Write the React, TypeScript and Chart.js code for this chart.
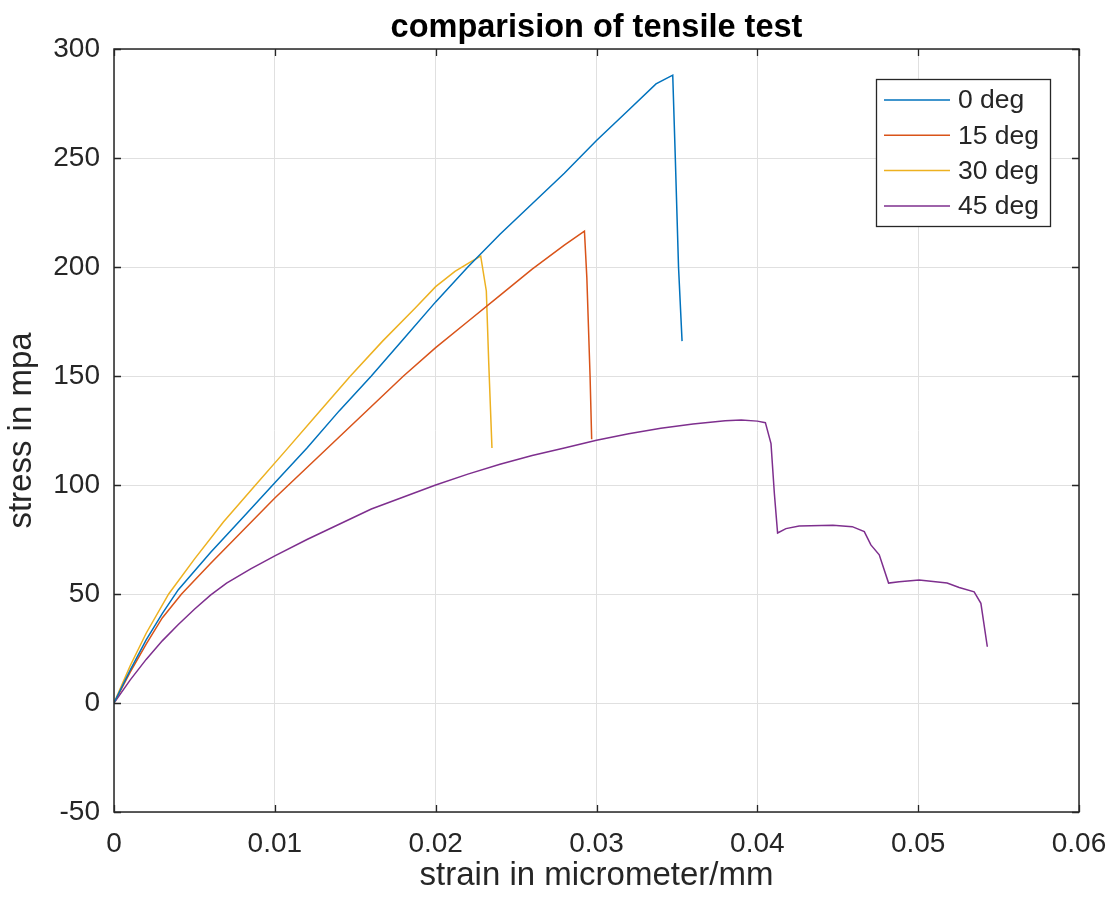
import { useEffect, useRef } from "react";
import { Chart, registerables } from "chart.js";

Chart.register(...registerables);

// ---- data ----
const seriesLabels = ["0 deg", "15 deg", "30 deg", "45 deg"];
const seriesColors = ["#0072BD", "#D95319", "#EDB120", "#7E2F8E"];

const strain0 = [0, 0.001, 0.002, 0.003, 0.004, 0.006, 0.008, 0.01, 0.012, 0.014, 0.016, 0.018, 0.02, 0.022, 0.024, 0.026, 0.028, 0.03, 0.032, 0.0337, 0.03474, 0.0349, 0.0351, 0.03532];
const stress0 = [0, 15, 29, 41, 52, 69, 85, 101, 117, 134, 150, 167, 184, 200, 215, 229, 243, 258, 272, 284, 288, 250, 200, 166];

const strain15 = [0, 0.001, 0.002, 0.003, 0.0042, 0.006, 0.008, 0.01, 0.012, 0.014, 0.016, 0.018, 0.02, 0.022, 0.024, 0.026, 0.028, 0.02925, 0.0294, 0.0296, 0.0297];
const stress15 = [0, 14, 27, 39, 50, 64, 79, 94, 108, 122, 136, 150, 163, 175, 187, 199, 210, 216.5, 195, 150, 121];

const strain30 = [0, 0.001, 0.002, 0.0034, 0.005, 0.0068, 0.0088, 0.0107, 0.0127, 0.0147, 0.0167, 0.0187, 0.02, 0.0212, 0.0222, 0.0228, 0.02315, 0.0233, 0.0235];
const stress30 = [0, 17, 32, 50, 66, 83, 100, 116, 133, 150, 166, 181, 191, 198, 202.5, 205, 189, 156, 117];

const strain45 = [0, 0.001, 0.002, 0.003, 0.004, 0.005, 0.006, 0.007, 0.0085, 0.01, 0.012, 0.014, 0.016, 0.018, 0.02, 0.022, 0.024, 0.026, 0.028, 0.03, 0.032, 0.034, 0.036, 0.038, 0.039, 0.04, 0.0405, 0.04085, 0.04106, 0.04126, 0.04178, 0.0426, 0.0447, 0.0459, 0.04665, 0.04706, 0.04758, 0.04816, 0.04882, 0.05006, 0.0518, 0.05255, 0.05348, 0.0539, 0.0543];
const stress45 = [0, 10.5, 20, 28.5, 36, 43, 49.5, 55, 61.5, 67.5, 75, 82, 89, 94.5, 100, 105, 109.5, 113.5, 117, 120.5, 123.5, 126, 128, 129.5, 129.8, 129.3, 128.6, 119, 96, 78, 80, 81.2, 81.5, 80.9, 78.6, 72.5, 68, 55, 55.6, 56.4, 55, 53, 51, 45.7, 25.8];

const xTickMin = 0;
const xTickMax = 0.06;
const xTickStep = 0.01;
const yTickMin = -50;
const yTickMax = 300;
const yTickStep = 50;

const titleText = "comparision of tensile test";
const xTitle = "strain in micrometer/mm";
const yTitle = "stress in mpa";

const FONT = '"Liberation Sans", Arial, Helvetica, sans-serif';
const AXIS_COLOR = "#262626";
const GRID_COLOR = "#e0e0e0";

const seriesX = [strain0, strain15, strain30, strain45];
const seriesY = [stress0, stress15, stress30, stress45];

const boxPlugin = {
  id: "matlabBox",
  afterDraw(chart: any) {
    const { ctx, chartArea, scales } = chart;
    const { left, top, right, bottom } = chartArea;
    ctx.save();
    ctx.strokeStyle = AXIS_COLOR;
    ctx.lineWidth = 1.5;
    ctx.strokeRect(left, top, right - left, bottom - top);
    ctx.lineWidth = 1.3;
    const tl = 7;
    ctx.beginPath();
    scales.x.ticks.forEach((t: any) => {
      const px = Math.round(scales.x.getPixelForValue(t.value)) + 0.5;
      ctx.moveTo(px, bottom);
      ctx.lineTo(px, bottom - tl);
      ctx.moveTo(px, top);
      ctx.lineTo(px, top + tl);
    });
    scales.y.ticks.forEach((t: any) => {
      const py = Math.round(scales.y.getPixelForValue(t.value)) + 0.5;
      ctx.moveTo(left, py);
      ctx.lineTo(left + tl, py);
      ctx.moveTo(right, py);
      ctx.lineTo(right - tl, py);
    });
    ctx.stroke();
    ctx.restore();
  },
};

const legendPlugin = {
  id: "boxedLegend",
  afterDraw(chart: any) {
    const { ctx, chartArea } = chart;
    const datasets = chart.data.datasets;
    const w = 174;
    const h = 147;
    const x0 = chartArea.right - 29 - w;
    const y0 = chartArea.top + 30;
    const rowH = 35.3;
    ctx.save();
    ctx.fillStyle = "#ffffff";
    ctx.fillRect(x0, y0, w, h);
    ctx.strokeStyle = AXIS_COLOR;
    ctx.lineWidth = 1.3;
    ctx.strokeRect(x0 + 0.5, y0 + 0.5, w, h);
    ctx.font = `26.5px ${FONT}`;
    ctx.textBaseline = "middle";
    ctx.textAlign = "left";
    datasets.forEach((d: any, i: number) => {
      const cy = y0 + 21 + i * rowH;
      ctx.strokeStyle = d.borderColor;
      ctx.lineWidth = 1.5;
      ctx.beginPath();
      ctx.moveTo(x0 + 8, cy);
      ctx.lineTo(x0 + 74, cy);
      ctx.stroke();
      ctx.fillStyle = AXIS_COLOR;
      ctx.fillText(d.label, x0 + 82, cy + 1);
    });
    ctx.restore();
  },
};

export default function App() {
  const canvasRef = useRef<HTMLCanvasElement | null>(null);

  useEffect(() => {
    if (!canvasRef.current) return;
    const datasets = seriesLabels.map((label, i) => ({
      label,
      data: seriesX[i].map((x, j) => ({ x, y: seriesY[i][j] })),
      borderColor: seriesColors[i],
      backgroundColor: seriesColors[i],
      borderWidth: 1.5,
      pointRadius: 0,
      tension: 0,
      fill: false,
    }));

    const chart = new Chart(canvasRef.current, {
      type: "line",
      data: { datasets },
      plugins: [boxPlugin, legendPlugin],
      options: {
        animation: false,
        responsive: false,
        maintainAspectRatio: false,
        layout: { padding: { left: 0, right: 30, top: 0, bottom: 0 } },
        plugins: {
          legend: { display: false },
          tooltip: { enabled: false },
          title: {
            display: true,
            fullSize: false,
            text: titleText,
            color: "#000000",
            font: { family: FONT, size: 32.5, weight: "bold", lineHeight: 1.2 },
            padding: { top: 9, bottom: 1 },
          },
        },
        scales: {
          x: {
            type: "linear",
            min: xTickMin,
            max: xTickMax,
            border: { display: false },
            grid: { color: GRID_COLOR, lineWidth: 1, drawTicks: false },
            ticks: {
              stepSize: xTickStep,
              padding: 15,
              color: AXIS_COLOR,
              font: { family: FONT, size: 28 },
              maxRotation: 0,
              callback: (v: any) => String(Math.round(Number(v) * 100) / 100),
            },
            title: {
              display: true,
              text: xTitle,
              color: AXIS_COLOR,
              font: { family: FONT, size: 33, lineHeight: 1.2 },
              padding: { top: 0, bottom: 6 },
            },
            afterFit: (scale: any) => {
              scale.height = 90;
              scale.paddingRight = 30;
              scale.paddingLeft = 0;
            },
          },
          y: {
            type: "linear",
            min: yTickMin,
            max: yTickMax,
            border: { display: false },
            grid: { color: GRID_COLOR, lineWidth: 1, drawTicks: false },
            ticks: {
              stepSize: yTickStep,
              padding: 14,
              color: AXIS_COLOR,
              font: { family: FONT, size: 28 },
            },
            title: {
              display: true,
              text: yTitle,
              color: AXIS_COLOR,
              font: { family: FONT, size: 33, lineHeight: 1.2 },
              padding: { top: 2, bottom: 0 },
            },
            afterFit: (scale: any) => {
              scale.width = 114;
              scale.paddingTop = 0;
              scale.paddingBottom = 0;
            },
          },
        },
      } as any,
    });
    return () => chart.destroy();
  }, []);

  return (
    <div style={{ position: "absolute", left: 0, top: 0, width: 1109, height: 902, background: "#ffffff" }}>
      <canvas ref={canvasRef} width={1109} height={902} style={{ display: "block" }} />
    </div>
  );
}
